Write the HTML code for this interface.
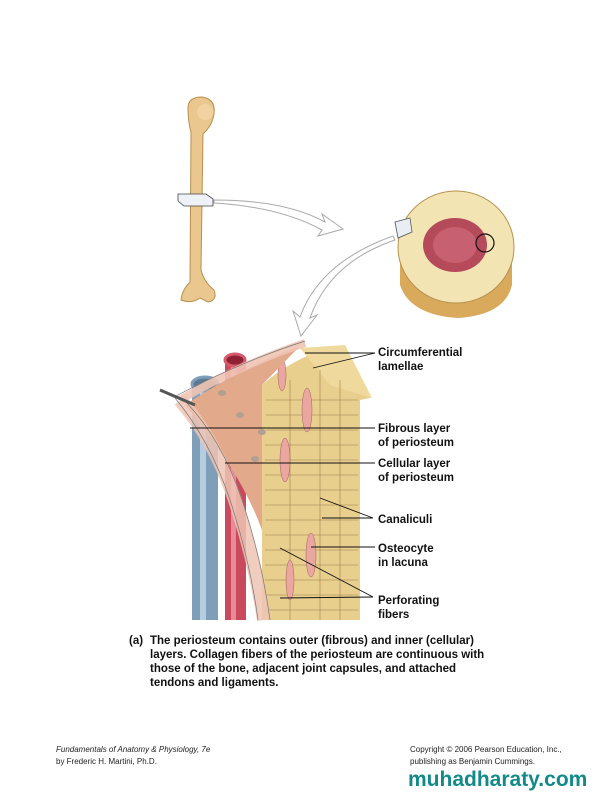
<!DOCTYPE html>
<html><head><meta charset="utf-8"><style>
body{margin:0;background:#fff;}
svg{display:block}
text{font-family:"Liberation Sans",sans-serif;}
.l{font-size:11.5px;font-weight:bold;fill:#111}
.c{font-size:11.5px;font-weight:bold;fill:#111}
.f{font-size:8px;fill:#222}
</style></head><body>
<svg width="612" height="792" viewBox="0 0 612 792">
<!-- bone -->
<path d="M188,108 Q188,97 202,97 Q216,99 214,114 Q212,126 203,134 L201,270 Q204,282 214,290 Q218,300 208,302 L200,298 Q192,304 181,300 Q182,290 190,282 L191,132 Q188,122 188,108Z" fill="#e9c78f" stroke="#b8904f" stroke-width="1"/>
<circle cx="205" cy="112" r="8" fill="#f0d3a0"/>
<path d="M178,194 L206,194 L213,199 L213,206 L184,206 L178,201Z" fill="#eef2f6" stroke="#444" stroke-width="0.8"/>
<!-- arrows -->
<path d="M214,200 Q285,200 325,222 L322,214 L343,229 L318,236 L322,230 Q280,207 214,203Z" fill="#fff" stroke="#aaa" stroke-width="1"/>
<path d="M395,240 Q330,262 310,318 L317,315 L301,336 L293,311 L300,317 Q320,262 393,236Z" fill="#fff" stroke="#aaa" stroke-width="1"/>
<!-- cross section -->
<path d="M400,245 L400,285 Q410,315 458,318 Q505,315 512,285 L512,245Z" fill="#d9a95c"/>
<ellipse cx="456" cy="247" rx="58" ry="56" fill="#f3e4b4" stroke="#b8904f"/>
<ellipse cx="455" cy="245" rx="32" ry="27" fill="#b44a5a"/>
<ellipse cx="455" cy="245" rx="22" ry="18" fill="#c76070"/>
<circle cx="485" cy="243" r="9" fill="none" stroke="#111" stroke-width="1.2"/>
<path d="M395,222 L410,218 L412,232 L398,238Z" fill="#e8eef4" stroke="#555" stroke-width="0.8"/>
<!-- main figure -->
<rect x="192" y="385" width="26" height="235" fill="#7f9fb8"/>
<rect x="200" y="385" width="6" height="235" fill="#b6cde0"/>
<ellipse cx="205" cy="384" rx="13" ry="7" fill="#5d7a92" stroke="#7f9fb8" stroke-width="3"/>
<rect x="225" y="360" width="21" height="260" fill="#c84a5c"/>
<rect x="231" y="360" width="5" height="260" fill="#e88a98"/>
<ellipse cx="235" cy="360" rx="10" ry="6" fill="#8c2233" stroke="#d65a6c" stroke-width="3"/>
<!-- bone tissue -->
<path d="M262,385 Q300,352 345,345 L370,398 L360,400 L360,620 L262,620Z" fill="#e9cf8e"/>
<path d="M300,348 L345,345 L372,398 L330,385Z" fill="#efd99c"/>
<g stroke="#7a5a30" stroke-width="0.6" opacity="0.7">
<line x1="266" y1="400" x2="358" y2="400"/><line x1="266" y1="415" x2="358" y2="415"/><line x1="266" y1="430" x2="358" y2="430"/><line x1="265" y1="445" x2="358" y2="445"/><line x1="265" y1="460" x2="358" y2="460"/><line x1="265" y1="475" x2="358" y2="475"/><line x1="265" y1="490" x2="358" y2="490"/><line x1="265" y1="505" x2="358" y2="505"/><line x1="265" y1="520" x2="358" y2="520"/><line x1="265" y1="535" x2="358" y2="535"/><line x1="265" y1="550" x2="358" y2="550"/><line x1="265" y1="565" x2="358" y2="565"/><line x1="265" y1="580" x2="358" y2="580"/><line x1="265" y1="595" x2="358" y2="595"/><line x1="265" y1="610" x2="358" y2="610"/>
<line x1="290" y1="380" x2="290" y2="620"/><line x1="320" y1="370" x2="320" y2="620"/><line x1="340" y1="380" x2="340" y2="620"/>
</g>
<g fill="#eaa7a0" stroke="#a06060" stroke-width="0.5">
<ellipse cx="307" cy="410" rx="5" ry="22"/><ellipse cx="285" cy="460" rx="5" ry="22"/><ellipse cx="311" cy="555" rx="5" ry="22"/><ellipse cx="290" cy="580" rx="4" ry="20"/><ellipse cx="282" cy="375" rx="4" ry="16"/>
</g>
<!-- periosteum -->
<path d="M185,405 Q240,368 300,346 L262,385 L262,530 Q240,470 185,405Z" fill="#e2a98a"/>
<path d="M180,400 Q215,440 235,500 Q255,560 264,620" fill="none" stroke="#efc4b4" stroke-width="14" opacity="0.85"/>
<path d="M180,400 Q240,365 305,343" fill="none" stroke="#efc4b4" stroke-width="8" opacity="0.9"/>
<g fill="none" stroke="#777" stroke-width="0.7">
<path d="M175,398 Q210,440 230,500 Q250,560 258,620"/>
<path d="M186,402 Q222,440 242,500 Q262,560 270,620"/>
<path d="M176,396 Q240,362 305,341"/>
</g>
<g fill="#b0a090"><ellipse cx="222" cy="393" rx="4" ry="3"/><ellipse cx="240" cy="415" rx="4" ry="3"/><ellipse cx="262" cy="432" rx="4" ry="3"/><ellipse cx="255" cy="459" rx="4" ry="3"/></g>
<line x1="160" y1="390" x2="195" y2="405" stroke="#555" stroke-width="3"/>
<!-- leader lines -->
<g stroke="#111" stroke-width="0.9">
<line x1="305" y1="353" x2="375" y2="353"/><line x1="313" y1="368" x2="375" y2="353"/>
<line x1="190" y1="428" x2="375" y2="428"/>
<line x1="225" y1="463" x2="375" y2="463"/>
<line x1="320" y1="498" x2="373" y2="518"/><line x1="322" y1="518" x2="373" y2="518"/>
<line x1="311" y1="547" x2="375" y2="547"/>
<line x1="280" y1="548" x2="373" y2="597"/><line x1="280" y1="598" x2="373" y2="597"/>
</g>
<!-- labels -->
<text class="l" x="378" y="356">Circumferential</text><text class="l" x="378" y="370">lamellae</text>
<text class="l" x="378" y="432">Fibrous layer</text><text class="l" x="378" y="446">of periosteum</text>
<text class="l" x="378" y="467">Cellular layer</text><text class="l" x="378" y="481">of periosteum</text>
<text class="l" x="378" y="523">Canaliculi</text>
<text class="l" x="378" y="552">Osteocyte</text><text class="l" x="378" y="566">in lacuna</text>
<text class="l" x="378" y="604">Perforating</text><text class="l" x="378" y="618">fibers</text>
<!-- caption -->
<text class="c" x="129" y="644">(a)</text>
<text class="c" x="150" y="644">The periosteum contains outer (fibrous) and inner (cellular)</text>
<text class="c" x="150" y="658">layers. Collagen fibers of the periosteum are continuous with</text>
<text class="c" x="150" y="672">those of the bone, adjacent joint capsules, and attached</text>
<text class="c" x="150" y="686">tendons and ligaments.</text>
<text class="f" x="56" y="752" font-style="italic">Fundamentals of Anatomy &amp; Physiology, 7e</text>
<text class="f" x="56" y="764">by Frederic H. Martini, Ph.D.</text>
<text class="f" x="410" y="752">Copyright © 2006 Pearson Education, Inc.,</text>
<text class="f" x="410" y="764">publishing as Benjamin Cummings.</text>
<text x="408" y="786" style="font-size:21px;font-weight:bold;fill:#138a8a">muhadharaty.com</text>
</svg>
</body></html>
